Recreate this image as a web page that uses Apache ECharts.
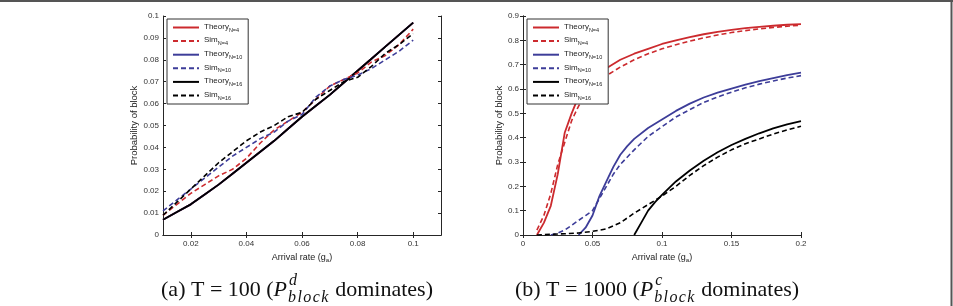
<!DOCTYPE html>
<html>
<head>
<meta charset="utf-8">
<style>
	html, body { margin: 0; padding: 0; background: #fff; }
	#chart { width: 953px; height: 306px; }
</style>
<script src="https://cdn.jsdelivr.net/npm/echarts@6/dist/echarts.min.js"></script>
</head>
<body>
<div id="chart"></div>
<script>
// ---- data: (a) T = 100 ----
const leftX = [0.01, 0.015, 0.02, 0.025, 0.03, 0.035, 0.04, 0.045, 0.05, 0.055, 0.06, 0.065, 0.07, 0.075, 0.08, 0.085, 0.09, 0.095, 0.1];
const leftTheory = [0.007, 0.0105, 0.014, 0.0185, 0.023, 0.028, 0.033, 0.038, 0.043, 0.0485, 0.054, 0.059, 0.064, 0.0695, 0.075, 0.0805, 0.086, 0.0915, 0.097];
const leftSim4 = [0.009, 0.014, 0.019, 0.023, 0.027, 0.030, 0.035, 0.042, 0.048, 0.052, 0.056, 0.062, 0.068, 0.071, 0.074, 0.079, 0.082, 0.087, 0.094];
const leftSim10 = [0.011, 0.016, 0.021, 0.026, 0.031, 0.036, 0.040, 0.044, 0.047, 0.052, 0.055, 0.063, 0.068, 0.071, 0.073, 0.076, 0.080, 0.084, 0.089];
const leftSim16 = [0.009, 0.015, 0.021, 0.027, 0.033, 0.038, 0.043, 0.047, 0.050, 0.054, 0.056, 0.062, 0.066, 0.070, 0.072, 0.077, 0.083, 0.087, 0.092];

// ---- data: (b) T = 1000 ----
const rightX4 = [0.01, 0.015, 0.02, 0.025, 0.03, 0.035, 0.04, 0.045, 0.05, 0.055, 0.06, 0.07, 0.08, 0.09, 0.1, 0.11, 0.12, 0.13, 0.14, 0.15, 0.16, 0.17, 0.18, 0.19, 0.2];
const rightTheory4 = [0, 0.05, 0.12, 0.25, 0.42, 0.50, 0.57, 0.61, 0.64, 0.665, 0.685, 0.72, 0.745, 0.765, 0.785, 0.80, 0.813, 0.825, 0.835, 0.843, 0.85, 0.855, 0.86, 0.864, 0.867];
const rightSim4 = [0.02, 0.08, 0.17, 0.29, 0.38, 0.47, 0.53, 0.57, 0.605, 0.635, 0.655, 0.69, 0.72, 0.745, 0.765, 0.782, 0.797, 0.81, 0.822, 0.832, 0.84, 0.847, 0.853, 0.858, 0.862];

const rightX10 = [0.04, 0.045, 0.05, 0.055, 0.06, 0.065, 0.07, 0.075, 0.08, 0.09, 0.1, 0.11, 0.12, 0.13, 0.14, 0.15, 0.16, 0.17, 0.18, 0.19, 0.2];
const rightTheory10 = [0, 0.03, 0.08, 0.16, 0.22, 0.28, 0.33, 0.365, 0.395, 0.44, 0.475, 0.51, 0.54, 0.565, 0.585, 0.602, 0.618, 0.632, 0.645, 0.657, 0.667];
const rightSimX10 = [0.02, 0.025, 0.03, 0.035, 0.04, 0.045, 0.05, 0.055, 0.06, 0.065, 0.07, 0.08, 0.09, 0.1, 0.11, 0.12, 0.13, 0.14, 0.15, 0.16, 0.17, 0.18, 0.19, 0.2];
const rightSim10 = [0, 0.008, 0.02, 0.04, 0.06, 0.08, 0.1, 0.15, 0.2, 0.25, 0.29, 0.35, 0.405, 0.445, 0.485, 0.515, 0.545, 0.567, 0.587, 0.605, 0.62, 0.633, 0.645, 0.655];

const rightX16 = [0.08, 0.085, 0.09, 0.095, 0.1, 0.11, 0.12, 0.13, 0.14, 0.15, 0.16, 0.17, 0.18, 0.19, 0.2];
const rightTheory16 = [0, 0.05, 0.10, 0.135, 0.165, 0.22, 0.265, 0.305, 0.34, 0.37, 0.395, 0.418, 0.438, 0.455, 0.468];
const rightSimX16 = [0.01, 0.02, 0.03, 0.04, 0.05, 0.06, 0.07, 0.075, 0.08, 0.09, 0.1, 0.11, 0.12, 0.13, 0.14, 0.15, 0.16, 0.17, 0.18, 0.19, 0.2];
const rightSim16 = [0, 0.003, 0.005, 0.008, 0.015, 0.025, 0.05, 0.07, 0.09, 0.125, 0.16, 0.2, 0.245, 0.285, 0.32, 0.35, 0.375, 0.395, 0.415, 0.432, 0.447];

// ---- axes ticks ----
const leftXTicks = [0.02, 0.04, 0.06, 0.08, 0.1];
const legendNames = ['Theory N=4', 'Sim N=4', 'Theory N=10', 'Sim N=10', 'Theory N=16', 'Sim N=16'];

const RED = '#cc2a2e';
const BLUE = '#3d3d99';
const BLACK = '#000000';
const FONT = 'Liberation Sans';
const SERIF = 'Liberation Serif';

const zip = (xs, ys) => xs.map((x, i) => [x, ys[i]]);
const fmt = v => String(parseFloat(v.toFixed(3)));

function lineSeries(name, idx, xs, ys, color, dashed) {
	return {
		name: name,
		type: 'line',
		xAxisIndex: idx * 2,
		yAxisIndex: idx * 2,
		data: zip(xs, ys),
		symbol: 'none',
		showSymbol: false,
		animation: false,
		lineStyle: { color: color, width: dashed ? 1.6 : 1.8, type: dashed ? [5, 3] : 'solid' },
		itemStyle: { color: color },
		z: dashed ? 3 : 2
	};
}

const axisLine = { show: true, lineStyle: { color: '#262626', width: 1 } };
const tickIn = { show: true, inside: true, length: 3, lineStyle: { color: '#262626' } };
const tickLabel = { fontFamily: FONT, fontSize: 8, color: '#333', formatter: fmt };

function xAxes(grid, min, max, interval, custom) {
	const main = {
		type: 'value', gridIndex: grid, min: min, max: max, position: 'bottom',
		axisLine: axisLine, splitLine: { show: false },
		axisTick: Object.assign({}, tickIn),
		axisLabel: Object.assign({ margin: 5 }, tickLabel),
		name: '{n|Arrival rate (g}{s|a}{n|)}', nameLocation: 'middle', nameGap: 11,
		nameTextStyle: {
			rich: {
				n: { fontFamily: FONT, fontSize: 9, color: '#222' },
				s: { fontFamily: FONT, fontSize: 6, color: '#222', padding: [5, 0, 0, 0] }
			}
		}
	};
	const top = {
		type: 'value', gridIndex: grid, min: min, max: max, position: 'top',
		axisLine: axisLine, splitLine: { show: false },
		axisTick: Object.assign({}, tickIn), axisLabel: { show: false }
	};
	if (custom) {
		main.axisTick.customValues = custom;
		main.axisLabel.customValues = custom;
		top.axisTick.customValues = custom;
	} else {
		main.interval = interval;
		top.interval = interval;
	}
	return [main, top];
}

function yAxes(grid, max, interval, gap) {
	return [{
		type: 'value', gridIndex: grid, min: 0, max: max, interval: interval, position: 'left',
		axisLine: axisLine, splitLine: { show: false }, axisTick: tickIn,
		axisLabel: Object.assign({ margin: 4 }, tickLabel),
		name: 'Probability of block', nameLocation: 'middle', nameGap: gap,
		nameTextStyle: { fontFamily: FONT, fontSize: 9.5, color: '#222' }
	}, {
		type: 'value', gridIndex: grid, min: 0, max: max, interval: interval, position: 'right',
		axisLine: axisLine, splitLine: { show: false }, axisTick: tickIn, axisLabel: { show: false }
	}];
}

function legend(left) {
	return {
		data: legendNames,
		orient: 'vertical',
		left: left, top: 19,
		backgroundColor: '#fff',
		borderColor: '#333', borderWidth: 1, borderRadius: 0,
		padding: [3, 6, 3, 5],
		itemWidth: 26, itemHeight: 10, itemGap: 2.6,
		selectedMode: false,
		itemStyle: { opacity: 0 },
		formatter: name => {
			const p = name.split(' ');
			return '{a|' + p[0] + '}{s|' + p[1] + '}';
		},
		textStyle: {
			rich: {
				a: { fontFamily: FONT, fontSize: 8, color: '#222', lineHeight: 10, verticalAlign: 'top' },
				s: { fontFamily: FONT, fontSize: 5.5, color: '#222', lineHeight: 7, padding: [5, 0, 0, 0] }
			}
		}
	};
}

// caption with P^x_block made of pieces measured on a canvas
const measureCtx = document.createElement('canvas').getContext('2d');
function textWidth(str, font) {
	measureCtx.font = font;
	return measureCtx.measureText(str).width;
}
function caption(cx, midY, prefix, sup) {
	const big = '22px "' + SERIF + '"';
	const ital = 'italic 22px "' + SERIF + '"';
	const small = 'italic 16px "' + SERIF + '"';
	const w1 = textWidth(prefix, big);
	const wP = textWidth('P', ital) + 1;
	// LaTeX math italic sets "block" wider than Times italic: spread the letters
	const letters = 'block'.split('');
	const gap = 1.4;
	const wB = letters.reduce((s, c) => s + textWidth(c, small) + gap, 0);
	const w3 = textWidth(' dominates)', big);
	const x0 = cx - (w1 + wP + wB + w3) / 2;
	const t = (x, y, text, font) => ({
		type: 'text',
		style: { x: x, y: y, text: text, font: font, fill: '#111', verticalAlign: 'middle' }
	});
	const parts = [
		t(x0, midY, prefix, big),
		t(x0 + w1, midY, 'P', ital),
		t(x0 + w1 + wP + 1, midY - 9, sup, small),
		t(x0 + w1 + wP + wB, midY, ' dominates)', big)
	];
	let lx = x0 + w1 + wP;
	letters.forEach(c => {
		parts.push(t(lx, midY + 8, c, small));
		lx += textWidth(c, small) + gap;
	});
	return parts;
}

const chart = echarts.init(document.getElementById('chart'), null, { renderer: 'canvas' });

const option = {
	animation: false,
	backgroundColor: '#fff',
	grid: [
		{ left: 163, top: 16, width: 278, height: 219 },
		{ left: 523, top: 16, width: 278, height: 219 }
	],
	xAxis: [].concat(xAxes(0, 0.01, 0.11, null, leftXTicks), xAxes(1, 0, 0.2, 0.05, null)),
	yAxis: [].concat(yAxes(0, 0.1, 0.01, 23), yAxes(1, 0.9, 0.1, 18)),
	legend: [legend(167), legend(527)],
	series: [
		lineSeries('Theory N=4', 0, leftX, leftTheory, RED, false),
		lineSeries('Sim N=4', 0, leftX, leftSim4, RED, true),
		lineSeries('Theory N=10', 0, leftX, leftTheory, BLUE, false),
		lineSeries('Sim N=10', 0, leftX, leftSim10, BLUE, true),
		lineSeries('Theory N=16', 0, leftX, leftTheory, BLACK, false),
		lineSeries('Sim N=16', 0, leftX, leftSim16, BLACK, true),
		lineSeries('Theory N=4', 1, rightX4, rightTheory4, RED, false),
		lineSeries('Sim N=4', 1, rightX4, rightSim4, RED, true),
		lineSeries('Theory N=10', 1, rightX10, rightTheory10, BLUE, false),
		lineSeries('Sim N=10', 1, rightSimX10, rightSim10, BLUE, true),
		lineSeries('Theory N=16', 1, rightX16, rightTheory16, BLACK, false),
		lineSeries('Sim N=16', 1, rightSimX16, rightSim16, BLACK, true)
	],
	graphic: [].concat(
		caption(297, 290, '(a) T = 100 (', 'd'),
		caption(657, 290, '(b) T = 1000 (', 'c'),
		[
			{ type: 'line', shape: { x1: 0, y1: 1, x2: 953, y2: 1 }, style: { stroke: '#555', lineWidth: 2 } },
			{ type: 'line', shape: { x1: 951.5, y1: 0, x2: 951.5, y2: 306 }, style: { stroke: '#555', lineWidth: 2 } }
		]
	)
};

chart.setOption(option);
</script>
</body>
</html>
